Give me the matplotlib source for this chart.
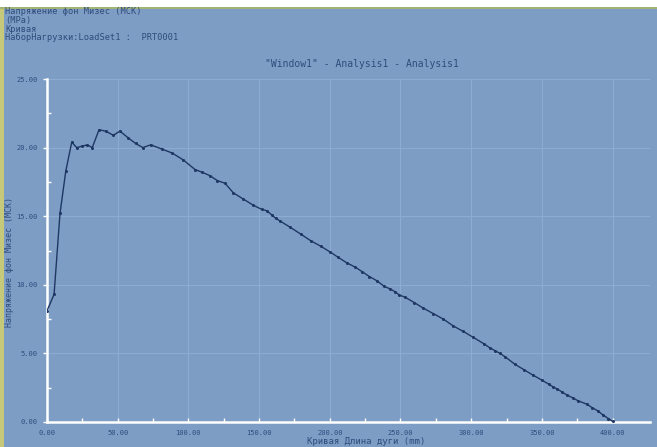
import matplotlib
matplotlib.use("Agg")
import matplotlib.pyplot as plt
from matplotlib.patches import Rectangle

# ---- data ----
arc_length = [0.0, 5.0, 9.2, 13.3, 17.5, 21.0, 24.5, 28.5, 32.0, 36.8, 41.5, 46.9,
              51.6, 57.5, 62.7, 67.7, 73.3, 81.1, 88.6, 96.4, 104.7, 109.8, 115.3,
              120.4, 125.9, 131.8, 138.8, 145.9, 151.8, 155.4, 158.9, 161.7, 164.8,
              171.9, 179.4, 186.7, 193.8, 200.1, 206.0, 212.0, 217.8, 223.0, 228.0,
              233.2, 238.3, 242.6, 246.1, 249.2, 253.2, 259.8, 266.1, 273.2, 280.3,
              287.3, 294.4, 301.0, 309.0, 313.3, 316.8, 320.4, 323.9, 331.0, 337.5,
              344.0, 350.0, 355.0, 358.0, 361.0, 364.0, 368.0, 372.0, 375.5, 381.7,
              385.5, 389.4, 393.4, 397.0, 400.0]
stress = [8.1, 9.3, 15.2, 18.3, 20.4, 20.0, 20.1, 20.2, 20.0, 21.3, 21.2, 20.9,
          21.2, 20.7, 20.3, 20.0, 20.2, 19.9, 19.6, 19.1, 18.4, 18.2, 17.95,
          17.6, 17.4, 16.7, 16.25, 15.8, 15.5, 15.4, 15.1, 14.85, 14.65,
          14.2, 13.7, 13.2, 12.8, 12.4, 12.0, 11.6, 11.3, 10.95, 10.6,
          10.3, 9.9, 9.7, 9.5, 9.25, 9.1, 8.7, 8.3, 7.9, 7.5,
          7.0, 6.6, 6.2, 5.7, 5.4, 5.2, 5.0, 4.76, 4.2, 3.8,
          3.4, 3.05, 2.75, 2.55, 2.4, 2.2, 1.95, 1.75, 1.55, 1.3,
          1.05, 0.82, 0.5, 0.25, 0.05]

x_ticks = [0, 50, 100, 150, 200, 250, 300, 350, 400]
x_tick_labels = ["0.00", "50.00", "100.00", "150.00", "200.00", "250.00", "300.00", "350.00", "400.00"]
y_ticks = [0, 5, 10, 15, 20, 25]
y_tick_labels = ["0.00", "5.00", "10.00", "15.00", "20.00", "25.00"]

header_lines = ["Напряжение фон Мизес (МСК)", "(MPa)", "Кривая",
                "НаборНагрузки:LoadSet1 :  PRT0001"]
title = '"Window1" - Analysis1 - Analysis1'
x_label = "Кривая Длина дуги (mm)"
y_label = "Напряжение фон Мизес (МСК)"

# ---- styling ----
W, H = 657, 447
bg = "#7e9dc5"
txt = "#2f4c7c"
mono = ["DejaVu Sans Mono"]

fig = plt.figure(figsize=(W / 100, H / 100), dpi=100, facecolor=bg)

# decorative frame strips
fig.patches.append(Rectangle((0, 1 - 7 / H), 1, 7 / H, transform=fig.transFigure,
                             facecolor="white", edgecolor="none", zorder=0))
fig.patches.append(Rectangle((0, 1 - 9 / H), 1, 2 / H, transform=fig.transFigure,
                             facecolor="#a3b374", edgecolor="none", zorder=0))
fig.patches.append(Rectangle((0, 0), 4 / W, 1 - 9 / H, transform=fig.transFigure,
                             facecolor="#c6c97a", edgecolor="none", zorder=0))

left_px, right_px, top_px, bottom_px = 47, 650, 79, 422
ax = fig.add_axes([left_px / W, (H - bottom_px) / H,
                   (right_px - left_px) / W, (bottom_px - top_px) / H])
ax.set_facecolor(bg)

ax.plot(arc_length, stress, color="#1e3863", linewidth=1.0, marker="o",
        markersize=2.2, markerfacecolor="#1e3863", markeredgewidth=0, zorder=3)

ax.set_xlim(0, (right_px - left_px) / 1.414)
ax.set_ylim(0, 25)

ax.set_xticks(x_ticks)
ax.set_xticklabels(x_tick_labels)
ax.set_yticks(y_ticks)
ax.set_yticklabels(y_tick_labels)
ax.set_xticks([25, 75, 125, 175, 225, 275, 325, 375], minor=True)
ax.set_yticks([2.5, 7.5, 12.5, 17.5, 22.5], minor=True)

for lab in ax.get_xticklabels() + ax.get_yticklabels():
    lab.set_family(mono)
    lab.set_fontsize(5)
    lab.set_color(txt)

ax.tick_params(axis="x", which="major", direction="in", length=3, width=1,
               color="white", pad=6)
ax.tick_params(axis="y", which="major", direction="out", length=3, width=1,
               color="white", pad=4)
ax.tick_params(which="minor", direction="in", length=3, width=1, color="white")

ax.grid(True, which="major", color="#8eabd0", linewidth=0.8)
ax.set_axisbelow(True)

for s in ["top", "right"]:
    ax.spines[s].set_visible(False)
for s in ["left", "bottom"]:
    ax.spines[s].set_color("white")
    ax.spines[s].set_linewidth(1.8)

# header text
for i, line in enumerate(header_lines):
    fig.text(5 / W, 1 - (12 + 8.5 * i) / H, line, family=mono, fontsize=6.2,
             color=txt, va="center", ha="left")

fig.text(362 / W, 1 - 64 / H, title, family=mono, fontsize=7, color=txt,
         va="center", ha="center")
fig.text(366 / W, 1 - 441 / H, x_label, family=mono, fontsize=6.5, color=txt,
         va="center", ha="center")
fig.text(10 / W, 1 - 262 / H, y_label, family=mono, fontsize=6, color=txt,
         va="center", ha="center", rotation=90)

fig.savefig("out.png", dpi=100, facecolor=bg)
